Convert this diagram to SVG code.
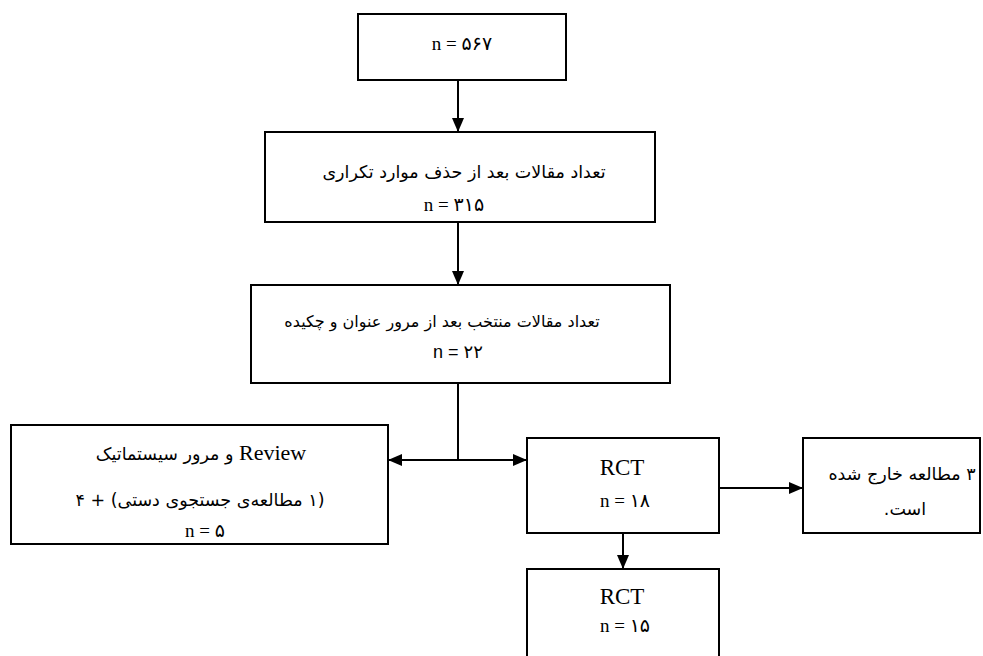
<svg xmlns="http://www.w3.org/2000/svg" width="983" height="656" viewBox="0 0 983 656">
<style>
.box{fill:#fff;stroke:#000;stroke-width:2}
.ln{fill:none;stroke:#000;stroke-width:2}
.t{font-family:"Liberation Serif","DejaVu Sans",serif;font-size:19px;fill:#000;text-anchor:middle}
.en{font-family:"Liberation Serif","DejaVu Sans",serif;font-size:23px;fill:#000;text-anchor:middle}
.s{font-family:"Liberation Sans","DejaVu Sans",sans-serif;font-size:18px;fill:#000;text-anchor:middle}
.fa{font-family:"DejaVu Sans",sans-serif;font-size:17.5px;fill:#000;text-anchor:middle}
</style>
<defs>
<marker id="ah" markerWidth="14" markerHeight="12" refX="13" refY="6" orient="auto-start-reverse" markerUnits="userSpaceOnUse">
<path d="M0,0 L14,6 L0,12 Z" fill="#000"/>
</marker>
</defs>
<rect width="983" height="656" fill="#fff"/>
<g id="connectors">
<line class="ln" x1="458" y1="80" x2="458" y2="131" marker-end="url(#ah)"/>
<line class="ln" x1="458" y1="222" x2="458" y2="284" marker-end="url(#ah)"/>
<line class="ln" x1="458" y1="383" x2="458" y2="460"/>
<line class="ln" x1="389" y1="460" x2="526" y2="460" marker-start="url(#ah)" marker-end="url(#ah)"/>
<line class="ln" x1="719" y1="488" x2="802" y2="488" marker-end="url(#ah)"/>
<line class="ln" x1="623" y1="533" x2="623" y2="568" marker-end="url(#ah)"/>
</g>
<g id="n1">
<rect class="box" x="358" y="14" width="208" height="66"/>
<text class="t" x="462" y="50">n = ۵۶۷</text>
</g>
<g id="n2">
<rect class="box" x="265" y="132" width="390" height="90"/>
<text class="fa" x="464" y="178" direction="rtl">تعداد مقالات بعد از حذف موارد تکراری</text>
<text class="t" x="454" y="211">n = ۳۱۵</text>
</g>
<g id="n3">
<rect class="box" x="251" y="285" width="419" height="98"/>
<text class="fa" x="442" y="327" direction="rtl" style="font-size:16px">تعداد مقالات منتخب بعد از مرور عنوان و چکیده</text>
<text class="s" x="458" y="358">n = ۲۲</text>
</g>
<g id="n4">
<rect class="box" x="11" y="425" width="377" height="119"/>
<text class="fa" x="201" y="460" direction="rtl"><tspan class="en" style="font-size:22px">Review</tspan> و مرور سیستماتیک</text>
<text class="fa" x="200" y="506" direction="rtl">(۱ مطالعه‌ی جستجوی دستی) + ۴</text>
<text class="t" x="205" y="537">n = ۵</text>
</g>
<g id="n5">
<rect class="box" x="527" y="438" width="192" height="95"/>
<text class="en" x="622" y="475">RCT</text>
<text class="t" x="625" y="507">n = ۱۸</text>
</g>
<g id="n6">
<rect class="box" x="803" y="438" width="177" height="95"/>
<text class="fa" x="902" y="480" direction="rtl">۳ مطالعه خارج شده</text>
<text class="fa" x="905" y="515" direction="rtl">است.</text>
</g>
<g id="n7">
<rect class="box" x="527" y="569" width="192" height="100"/>
<text class="en" x="622" y="604">RCT</text>
<text class="t" x="625" y="632">n = ۱۵</text>
</g>
</svg>
